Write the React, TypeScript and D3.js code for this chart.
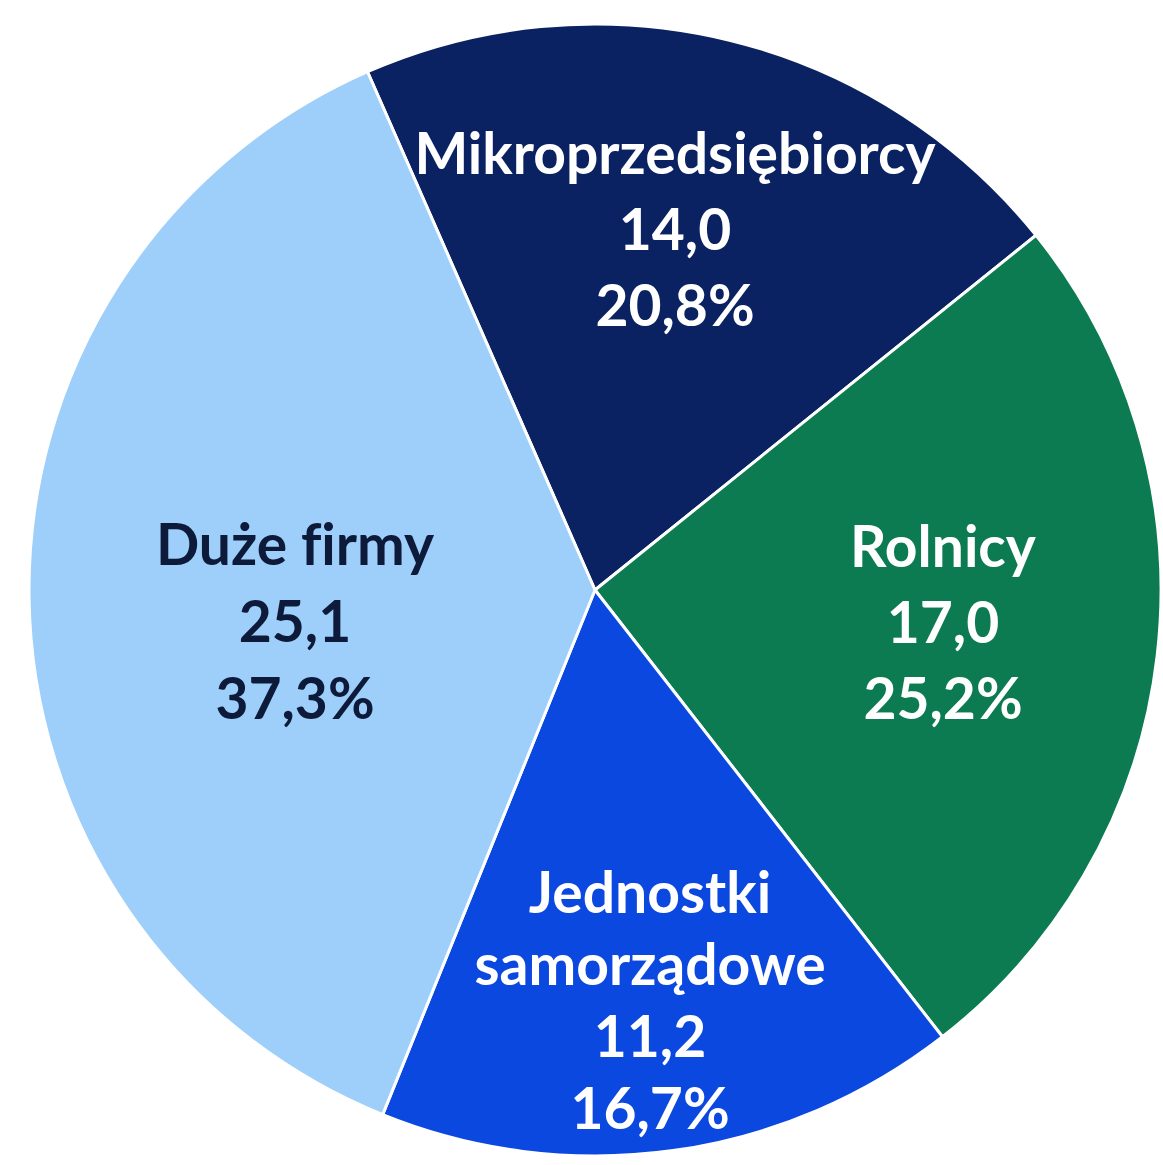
import React, { useRef, useEffect } from 'react';
import * as d3 from 'd3';

// dane wykresu
const categories = ['Mikroprzedsiębiorcy', 'Rolnicy', 'Jednostki samorządowe', 'Duże firmy'];
const values = [14.0, 17.0, 11.2, 25.1];
const percents = ['20,8%', '25,2%', '16,7%', '37,3%'];
const valueLabels = ['14,0', '17,0', '11,2', '25,1'];
const labelLines = [['Mikroprzedsiębiorcy'], ['Rolnicy'], ['Jednostki', 'samorządowe'], ['Duże firmy']];
const colors = ['#0b2262', '#0c7b51', '#0a48e0', '#9dcffa'];
const textColors = ['#ffffff', '#ffffff', '#ffffff', '#0d1a3a'];

const W = 1163;
const H = 1165;

const App = () => {
  const ref = useRef<SVGSVGElement>(null);

  useEffect(() => {
    const svg = d3.select(ref.current);
    svg.selectAll('*').remove();

    const cx = 595;
    const cy = 590;
    const r = 566;
    const start = (-23.7 * Math.PI) / 180;

    const pie = d3.pie<number>().sort(null).value(d => d).startAngle(start).endAngle(start + 2 * Math.PI);
    const arc = d3.arc<d3.PieArcDatum<number>>().innerRadius(0).outerRadius(r);
    const arcs = pie(values);

    const g = svg.append('g').attr('transform', `translate(${cx},${cy})`);

    g.selectAll('path')
      .data(arcs)
      .enter()
      .append('path')
      .attr('d', arc)
      .attr('fill', (d, i) => colors[i])
      .attr('stroke', '#ffffff')
      .attr('stroke-width', 3)
      .attr('stroke-linejoin', 'round');

    // pozycje etykiet (środek bloku tekstu) względem środka koła + odstęp wierszy
    const labelPos = [
      [80, -360, 76],
      [348, 33, 76],
      [55, 411, 72],
      [-300, 32, 77],
    ];

    arcs.forEach((a, i) => {
      const lines = [...labelLines[i], valueLabels[i], percents[i]];
      const [lx, ly, lh] = labelPos[i];
      const top = ly - ((lines.length - 1) * lh) / 2;
      const t = g.append('text')
        .attr('text-anchor', 'middle')
        .attr('fill', textColors[i])
        .style('font-family', 'Lato, "Open Sans", sans-serif')
        .style('font-weight', 700)
        .style('font-variant-ligatures', 'none')
        .style('font-size', '57px');
      lines.forEach((line, k) => {
        t.append('tspan')
          .attr('x', lx)
          .attr('y', top + k * lh)
          .attr('dy', '0.35em')
          .text(line);
      });
    });
  }, []);

  return (
    <svg ref={ref} width={W} height={H} style={{ position: 'absolute', left: 0, top: 0, background: '#ffffff' }} />
  );
};

export default App;
